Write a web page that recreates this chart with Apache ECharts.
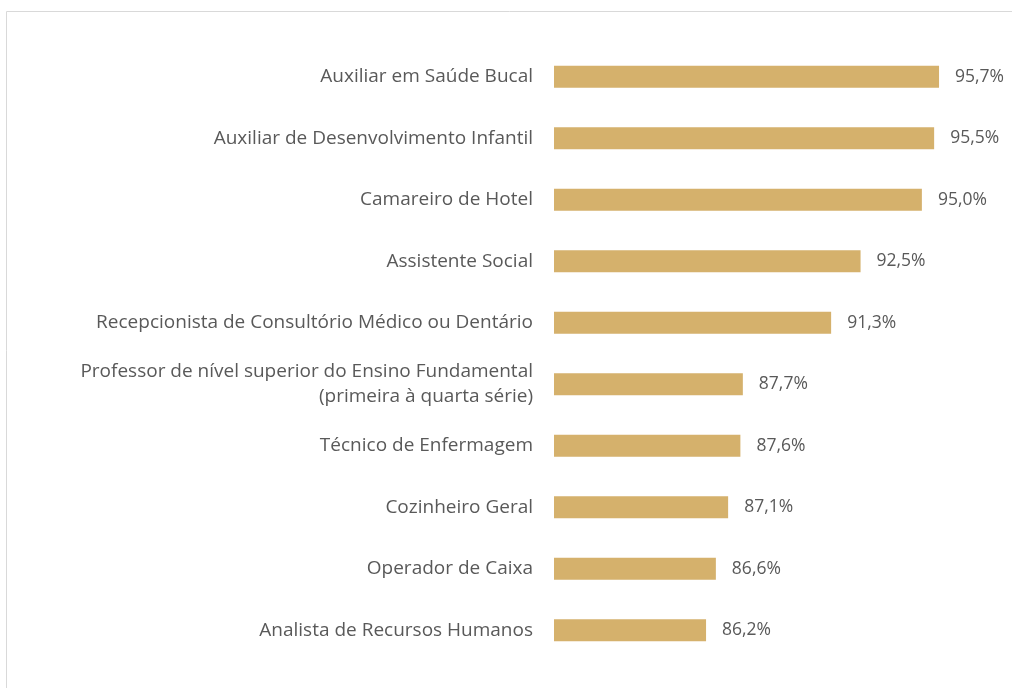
<!DOCTYPE html>
<html>
<head>
<meta charset="utf-8">
<script src="https://cdn.jsdelivr.net/npm/echarts@6/dist/echarts.min.js"></script>
<style>
  html, body { margin: 0; padding: 0; background: #fff; }
  #chart { width: 1012px; height: 688px; }
</style>
</head>
<body>
<div id="chart"></div>
<script>
// ocupações e percentuais
var categories = [
  'Auxiliar em Saúde Bucal',
  'Auxiliar de Desenvolvimento Infantil',
  'Camareiro de Hotel',
  'Assistente Social',
  'Recepcionista de Consultório Médico ou Dentário',
  'Professor de nível superior do Ensino Fundamental\n(primeira à quarta série)',
  'Técnico de Enfermagem',
  'Cozinheiro Geral',
  'Operador de Caixa',
  'Analista de Recursos Humanos'
]
var values = [95.7, 95.5, 95.0, 92.5, 91.3, 87.7, 87.6, 87.1, 86.6, 86.2]

var chart = echarts.init(document.getElementById('chart'))
chart.setOption({
  animation: false,
  graphic: [
    {
      type: 'rect',
      shape: { x: 6.5, y: 11.5, width: 1100, height: 800 },
      style: { fill: 'none', stroke: '#d9d9d9', lineWidth: 1 },
      silent: true
    }
  ],
  grid: {
    left: 554,
    right: 65.6,
    top: 46,
    bottom: 27,
    containLabel: false
  },
  xAxis: {
    type: 'value',
    min: 80,
    max: 96,
    show: false
  },
  yAxis: {
    type: 'category',
    inverse: true,
    data: categories,
    axisLine: { show: false },
    axisTick: { show: false },
    axisLabel: {
      color: '#595959',
      fontSize: 19,
      fontFamily: 'Open Sans',
      margin: 21,
      lineHeight: 25,
      align: 'right'
    }
  },
  series: [
    {
      type: 'bar',
      data: values,
      barWidth: 22,
      itemStyle: { color: '#d5b16c' },
      label: {
        show: true,
        position: 'right',
        distance: 16,
        color: '#595959',
        fontSize: 17.5,
        fontFamily: 'Open Sans',
        formatter: function (p) {
          return p.value.toFixed(1).replace('.', ',') + '%'
        }
      }
    }
  ]
})
</script>
</body>
</html>
